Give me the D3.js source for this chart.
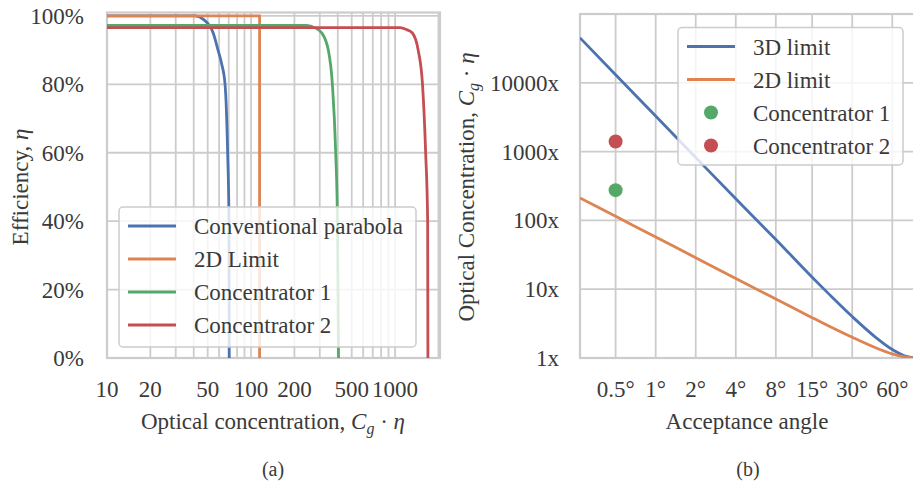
<!DOCTYPE html>
<html>
<head>
<meta charset="utf-8">
<script src="https://cdn.jsdelivr.net/npm/d3@7"></script>
<style>
  body { margin: 0; background: #fff; }
  svg { display: block; font-family: "Liberation Serif", "DejaVu Serif", serif; }
  .tick-label { font-size: 23px; fill: #3a3a3a; }
  .axis-label { font-size: 23px; fill: #3a3a3a; }
  .legend-text { font-size: 23px; fill: #3a3a3a; }
  .caption { font-size: 20px; fill: #3a3a3a; }
  .grid { stroke: #cccccc; stroke-width: 1.8; }
</style>
</head>
<body>
<div id="chart"></div>
<script>
// Panel (a): efficiency vs optical concentration
var parabolaX = [10, 38, 40.8, 46.6, 54.6, 59, 62.5, 66, 68.8, 70.3, 70.6];
var parabolaY = [1.0, 1.0, 1.0, 0.99, 0.95, 0.90, 0.86, 0.80, 0.60, 0.40, 0.0];
var limit2dX = [10, 114.6, 114.6];
var limit2dY = [1.0, 1.0, 0.0];
var conc1X = [10, 243, 278, 310, 344, 367, 387, 398, 405];
var conc1Y = [0.972, 0.972, 0.965, 0.95, 0.90, 0.80, 0.60, 0.40, 0.0];
var conc2X = [10, 1084, 1200, 1318, 1446, 1550, 1630, 1683, 1690];
var conc2Y = [0.966, 0.966, 0.96, 0.95, 0.90, 0.80, 0.60, 0.40, 0.0];
var seriesNamesA = ["Conventional parabola", "2D Limit", "Concentrator 1", "Concentrator 2"];
var xTicksA = [10, 20, 50, 100, 200, 500, 1000];
var yTicksA = [0, 0.2, 0.4, 0.6, 0.8, 1.0];

// Panel (b): concentration limits vs acceptance angle
var angles = [0.27, 0.5, 1, 2, 4, 8, 15, 20, 30, 45, 60, 75, 90];
var limit3dB = [45000, 13130, 3283, 821, 206, 52.8, 14.9, 8.55, 4.0, 2.0, 1.33, 1.07, 1.0];
var limit2dB = [212, 114.6, 57.3, 28.7, 14.3, 7.19, 3.86, 2.92, 2.0, 1.41, 1.15, 1.035, 1.0];
var pointAngles = [0.5, 0.5];
var pointValues = [275, 1400];
var seriesNamesB = ["3D limit", "2D limit", "Concentrator 1", "Concentrator 2"];
var xTicksB = [0.5, 1, 2, 4, 8, 15, 30, 60];
var yTicksB = [1, 10, 100, 1000, 10000];

var colors = ["#4c72b0", "#dd8452", "#55a868", "#c44e52"];

var svg = d3.select("#chart").append("svg").attr("width", 913).attr("height", 485);

function zip(xs, ys) {
  return xs.map(function(x, i) { return [x, ys[i]]; });
}

function drawLegend(g, x, y, w, h, names, kinds) {
  g.append("rect").attr("x", x).attr("y", y).attr("width", w).attr("height", h)
    .attr("rx", 4).attr("fill", "#fff").attr("fill-opacity", 0.8)
    .attr("stroke", "#cccccc").attr("stroke-width", 1.5);
  names.forEach(function(name, i) {
    var cy = y + 19 + i * 33;
    if (kinds[i] === "line") {
      g.append("line").attr("x1", x + 9).attr("x2", x + 57).attr("y1", cy).attr("y2", cy)
        .attr("stroke", colors[i]).attr("stroke-width", 2.8);
    } else {
      g.append("circle").attr("cx", x + 33).attr("cy", cy).attr("r", 7).attr("fill", colors[i]);
    }
    g.append("text").attr("class", "legend-text").attr("x", x + 75).attr("y", cy + 8).text(name);
  });
}

// ---------- Panel (a) ----------
var a = { left: 107, right: 440, top: 12.5, bottom: 358 };
var xA = d3.scaleLog().domain([10, 2050]).range([a.left, a.right]);
var yA = d3.scaleLinear().domain([0, 1.01]).range([a.bottom, a.top]);
var gA = svg.append("g");

gA.append("clipPath").attr("id", "clipA").append("rect")
  .attr("x", a.left).attr("y", a.top).attr("width", a.right - a.left).attr("height", a.bottom - a.top);

// grid (major + minor on log axis)
var gridXA = xA.ticks().filter(function(t) { return t > 10 && t < 2050; });
gA.selectAll(".gxa").data(gridXA).enter().append("line").attr("class", "grid")
  .attr("x1", function(d) { return xA(d); }).attr("x2", function(d) { return xA(d); })
  .attr("y1", a.top).attr("y2", a.bottom);
gA.selectAll(".gya").data(yTicksA).enter().append("line").attr("class", "grid")
  .attr("x1", a.left).attr("x2", a.right)
  .attr("y1", function(d) { return yA(d); }).attr("y2", function(d) { return yA(d); });
gA.append("rect").attr("x", a.left).attr("y", a.top).attr("width", a.right - a.left)
  .attr("height", a.bottom - a.top).attr("fill", "none").attr("stroke", "#cccccc").attr("stroke-width", 2.2);

var lineA = d3.line().x(function(d) { return xA(d[0]); }).y(function(d) { return yA(d[1]); });
var seriesA = [zip(parabolaX, parabolaY), zip(limit2dX, limit2dY), zip(conc1X, conc1Y), zip(conc2X, conc2Y)];
seriesA.forEach(function(s, i) {
  gA.append("path").attr("d", lineA.curve(i === 1 ? d3.curveLinear : d3.curveMonotoneX)(s))
    .attr("fill", "none").attr("stroke", colors[i]).attr("stroke-width", 2.8)
    .attr("clip-path", "url(#clipA)");
});

// ticks
gA.selectAll(".txa").data(xTicksA).enter().append("text").attr("class", "tick-label")
  .attr("x", function(d) { return xA(d); }).attr("y", 397).attr("text-anchor", "middle")
  .text(function(d) { return d; });
gA.selectAll(".tya").data(yTicksA).enter().append("text").attr("class", "tick-label")
  .attr("x", 84).attr("y", function(d) { return yA(d) + 8; }).attr("text-anchor", "end")
  .text(function(d) { return Math.round(d * 100) + "%"; });

var xlabA = gA.append("text").attr("class", "axis-label").attr("x", 273).attr("y", 429).attr("text-anchor", "middle");
xlabA.append("tspan").text("Optical concentration, ");
xlabA.append("tspan").attr("font-style", "italic").text("C");
xlabA.append("tspan").attr("font-style", "italic").attr("font-size", 16).attr("dy", 5).text("g");
xlabA.append("tspan").attr("dy", -5).text(" \u00b7 ");
xlabA.append("tspan").attr("font-style", "italic").text("\u03b7");

var ylabA = gA.append("text").attr("class", "axis-label").attr("transform", "translate(28,187) rotate(-90)")
  .attr("text-anchor", "middle");
ylabA.append("tspan").text("Efficiency, ");
ylabA.append("tspan").attr("font-style", "italic").text("\u03b7");

drawLegend(gA, 119, 207, 297, 140, seriesNamesA, ["line", "line", "line", "line"]);
gA.append("text").attr("class", "caption").attr("x", 273).attr("y", 476).attr("text-anchor", "middle").text("(a)");

// ---------- Panel (b) ----------
var b = { left: 580, right: 915.7, top: 14, bottom: 358 };
var xB = d3.scaleLog().domain([0.27, 90]).range([b.left, b.right]);
var yB = d3.scaleLog().domain([1, 1e5]).range([b.bottom, b.top]);
var gB = svg.append("g");

gB.append("clipPath").attr("id", "clipB").append("rect")
  .attr("x", b.left).attr("y", b.top).attr("width", b.right - b.left).attr("height", b.bottom - b.top);

gB.selectAll(".gxb").data(xTicksB).enter().append("line").attr("class", "grid")
  .attr("x1", function(d) { return xB(d); }).attr("x2", function(d) { return xB(d); })
  .attr("y1", b.top).attr("y2", b.bottom);
gB.selectAll(".gyb").data(yTicksB).enter().append("line").attr("class", "grid")
  .attr("x1", b.left).attr("x2", b.right)
  .attr("y1", function(d) { return yB(d); }).attr("y2", function(d) { return yB(d); });
gB.append("rect").attr("x", b.left).attr("y", b.top).attr("width", b.right - b.left)
  .attr("height", b.bottom - b.top).attr("fill", "none").attr("stroke", "#cccccc").attr("stroke-width", 2.2);

var lineB = d3.line().curve(d3.curveMonotoneX)
  .x(function(d) { return xB(d[0]); }).y(function(d) { return yB(d[1]); });
[zip(angles, limit3dB), zip(angles, limit2dB)].forEach(function(s, i) {
  gB.append("path").attr("d", lineB(s)).attr("fill", "none").attr("stroke", colors[i])
    .attr("stroke-width", 2.8).attr("clip-path", "url(#clipB)");
});
gB.selectAll(".pt").data(zip(pointAngles, pointValues)).enter().append("circle")
  .attr("cx", function(d) { return xB(d[0]); }).attr("cy", function(d) { return yB(d[1]); })
  .attr("r", 7).attr("fill", function(d, i) { return colors[i + 2]; });

gB.selectAll(".txb").data(xTicksB).enter().append("text").attr("class", "tick-label")
  .attr("x", function(d) { return xB(d); }).attr("y", 397).attr("text-anchor", "middle")
  .text(function(d) { return d + "\u00b0"; });
gB.selectAll(".tyb").data(yTicksB).enter().append("text").attr("class", "tick-label")
  .attr("x", 559).attr("y", function(d) { return yB(d) + 8; }).attr("text-anchor", "end")
  .text(function(d) { return d + "x"; });

gB.append("text").attr("class", "axis-label").attr("x", 747).attr("y", 429)
  .attr("text-anchor", "middle").text("Acceptance angle");
var ylabB = gB.append("text").attr("class", "axis-label").attr("transform", "translate(474,187) rotate(-90)")
  .attr("text-anchor", "middle");
ylabB.append("tspan").text("Optical Concentration, ");
ylabB.append("tspan").attr("font-style", "italic").text("C");
ylabB.append("tspan").attr("font-style", "italic").attr("font-size", 16).attr("dy", 5).text("g");
ylabB.append("tspan").attr("dy", -5).text(" \u00b7 ");
ylabB.append("tspan").attr("font-style", "italic").text("\u03b7");

drawLegend(gB, 678, 27.5, 225, 137.5, seriesNamesB, ["line", "line", "dot", "dot"]);
gB.append("text").attr("class", "caption").attr("x", 748).attr("y", 476).attr("text-anchor", "middle").text("(b)");
</script>
</body>
</html>
